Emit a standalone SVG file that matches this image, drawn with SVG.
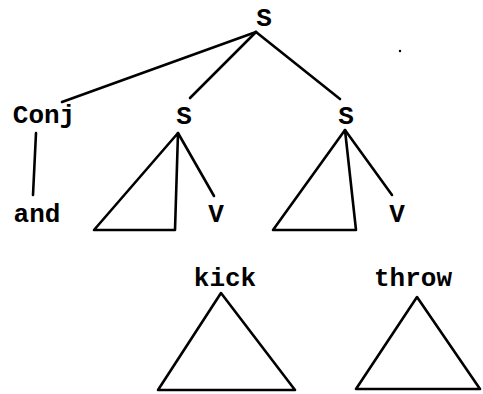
<svg xmlns="http://www.w3.org/2000/svg" width="483" height="394" viewBox="0 0 483 394">
<style>
text{font-family:"Liberation Mono","DejaVu Sans Mono",monospace;font-size:26px;font-weight:bold;fill:#000;text-anchor:middle}
.e{stroke:#000;stroke-width:2.6;fill:none;stroke-linecap:round;stroke-linejoin:round}
</style>
<rect width="483" height="394" fill="#fff"/>
<g id="edges" class="e">
<line x1="256" y1="32" x2="62" y2="102"/>
<line x1="256" y1="32" x2="190" y2="98"/>
<line x1="256" y1="32" x2="340" y2="99"/>
<line x1="36" y1="133" x2="33" y2="195"/>
<line x1="178" y1="133" x2="214" y2="196"/>
<line x1="345" y1="130" x2="392" y2="195"/>
</g>
<g id="S-root"><text x="264" y="26">S</text></g>
<g id="Conj"><text x="44" y="123">Conj</text></g>
<g id="and"><text x="37" y="222">and</text></g>
<g id="S-left"><text x="184" y="124">S</text></g>
<g id="S-right"><text x="346" y="124">S</text></g>
<g id="tri-left"><path class="e" d="M178 133 L94 230 L175 230 Z"/></g>
<g id="tri-right"><path class="e" d="M345 130 L273 230 L356 230 Z"/></g>
<g id="V-left"><text x="216" y="222">V</text></g>
<g id="V-right"><text x="397" y="222">V</text></g>
<g id="kick"><text x="225" y="286">kick</text><path class="e" d="M221 293 L158 390 L295 390 Z"/></g>
<g id="throw"><text x="413" y="286">throw</text><path class="e" d="M417 297 L356 389 L480 389 Z"/></g>
<circle cx="400" cy="51" r="1.2" fill="#000"/>
</svg>
